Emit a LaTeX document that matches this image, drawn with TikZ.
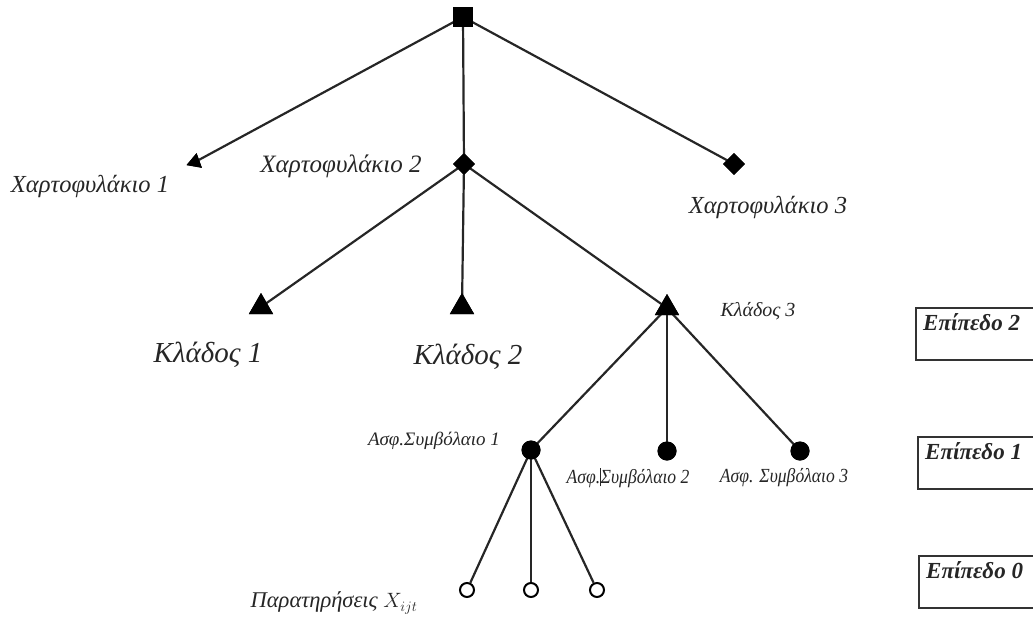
\documentclass[tikz,border=0pt]{standalone}
\usepackage{fontspec}
\setmainfont{Liberation Serif}
\usetikzlibrary{shapes.geometric}
\tikzset{
  edge/.style={line width=2.2pt, draw=black!85},
  rootbox/.style={rectangle, fill=black, inner sep=0pt, minimum size=20pt},
  tri/.style={regular polygon, regular polygon sides=3, fill=black, inner sep=0pt, minimum size=28pt},
  smalltri/.style={regular polygon, regular polygon sides=3, fill=black, inner sep=0pt, minimum size=18pt, rotate=-10},
  dia/.style={diamond, fill=black, inner sep=0pt, minimum width=22pt, minimum height=22pt},
  dot/.style={circle, fill=black, inner sep=0pt, minimum size=19pt},
  obs/.style={circle, draw=black, line width=2pt, fill=white, inner sep=0pt, minimum size=14pt},
  lab/.style={font=\itshape, inner sep=0pt, text=black!85},
  levelbox/.style={line width=1.5pt, draw=black!80}
}
\begin{document}
\begin{tikzpicture}[x=1pt,y=-1pt]
\useasboundingbox (0,0) rectangle (1033,622);
% nodes
\node[rootbox] (root) at (463,17) {};
\node[smalltri] (p1) at (195,162) {};
\node[dia] (p2) at (464,164) {};
\node[dia] (p3) at (734,164) {};
\node[tri] (k1) at (261,307) {};
\node[tri] (k2) at (462,307) {};
\node[tri] (k3) at (667,308) {};
\node[dot] (s1) at (531,450) {};
\node[dot] (s2) at (667,451) {};
\node[dot] (s3) at (800,451) {};
\node[obs] (o1) at (467,590) {};
\node[obs] (o2) at (531,590) {};
\node[obs] (o3) at (597,590) {};
% edges
\draw[edge] (root.center) -- (p1.center);
\draw[edge] (root.center) -- (p2.center);
\draw[edge] (root.center) -- (p3.center);
\draw[edge] (p2.center) -- (k1.center);
\draw[edge] (p2.center) -- (k2.center);
\draw[edge] (p2.center) -- (k3.center);
\draw[edge] (k3.center) -- (s1.center);
\draw[edge] (k3.center) -- (s2.center);
\draw[edge] (k3.center) -- (s3.center);
\draw[edge] (s1.center) -- (o1);
\draw[edge] (s1.center) -- (o2);
\draw[edge] (s1.center) -- (o3);
% redraw shapes on top
\node[rootbox] at (root) {};
\node[smalltri] at (p1) {};
\node[dia] at (p2) {};
\node[dia] at (p3) {};
\node[tri] at (k1) {};
\node[tri] at (k2) {};
\node[tri] at (k3) {};
\node[dot] at (s1) {};
\node[dot] at (s2) {};
\node[dot] at (s3) {};
% labels
\node[lab, font=\itshape\fontsize{24.5}{28}\selectfont] (lp1) at (90,186) {Χαρτοφυλάκιο 1};
\node[lab, font=\itshape\fontsize{25}{28}\selectfont] (lp2) at (341,166) {Χαρτοφυλάκιο 2};
\node[lab, font=\itshape\fontsize{24.5}{28}\selectfont] (lp3) at (768,207) {Χαρτοφυλάκιο 3};
\node[lab, font=\itshape\fontsize{29}{32}\selectfont] (lk1) at (208,355) {Κλάδος 1};
\node[lab, font=\itshape\fontsize{29}{32}\selectfont] (lk2) at (468,357) {Κλάδος 2};
\node[lab, font=\itshape\fontsize{20}{24}\selectfont] (lk3) at (758,311) {Κλάδος 3};
\node[lab, font=\itshape\fontsize{19}{22}\selectfont] (ls1) at (434,441) {Ασφ.Συμβόλαιο 1};
\node[lab, font=\itshape\fontsize{20}{22}\selectfont, xscale=0.88, transform shape] (ls2) at (628,478) {Ασφ.\rule[-3pt]{0.6pt}{18pt}Συμβόλαιο 2};
\node[lab, font=\itshape\fontsize{20}{22}\selectfont, xscale=0.88, transform shape] (ls3) at (784,478) {Ασφ. Συμβόλαιο 3};
\node[lab, font=\itshape\fontsize{22.5}{26}\selectfont] (lobs) at (334,603) {Παρατηρήσεις $X_{ijt}$};
% level boxes
\draw[levelbox] (1033,308) -- (916,308) -- (916,360) -- (1033,360);
\draw[levelbox] (1033,437) -- (918,437) -- (918,489) -- (1033,489);
\draw[levelbox] (1033,556) -- (919,556) -- (919,608) -- (1033,608);
\node[lab, anchor=north west, font=\bfseries\itshape\fontsize{23}{26}\selectfont] (e2) at (923,313) {Επίπεδο 2};
\node[lab, anchor=north west, font=\bfseries\itshape\fontsize{23}{26}\selectfont] (e1) at (925,442) {Επίπεδο 1};
\node[lab, anchor=north west, font=\bfseries\itshape\fontsize{23}{26}\selectfont] (e0) at (926,561) {Επίπεδο 0};
\end{tikzpicture}
\end{document}
